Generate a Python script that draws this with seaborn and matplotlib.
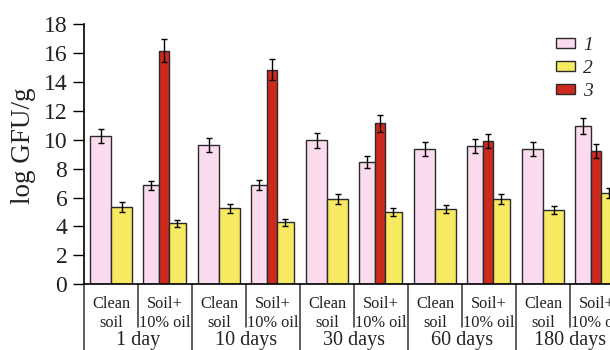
import matplotlib
matplotlib.use("Agg")
import matplotlib.pyplot as plt
import numpy as np
import seaborn as sns
from matplotlib.patches import Patch

# Data
times = ["1 day", "10 days", "30 days", "60 days", "180 days"]
soil_top = ["Clean", "Soil+"]
soil_bottom = ["soil", "10% oil"]
series_names = ["1", "2", "3"]

s1_clean = [10.25, 9.65, 9.95, 9.35, 9.38]
s1_clean_err = [0.5, 0.5, 0.52, 0.5, 0.48]
s1_oil = [6.85, 6.85, 8.45, 9.56, 10.95]
s1_oil_err = [0.32, 0.35, 0.4, 0.48, 0.55]

s2_clean = [5.36, 5.25, 5.88, 5.21, 5.13]
s2_clean_err = [0.35, 0.3, 0.35, 0.25, 0.3]
s2_oil = [4.23, 4.28, 4.99, 5.88, 6.30]
s2_oil_err = [0.25, 0.25, 0.3, 0.35, 0.35]

s3_oil = [16.15, 14.85, 11.12, 9.90, 9.22]
s3_oil_err = [0.8, 0.75, 0.6, 0.5, 0.47]

pink = "#fbdbee"
yellow = "#f8e962"
red = "#cc2a1c"
edge = "#2a2a2a"

sns.set_style("ticks")
plt.rcParams["font.family"] = ["Liberation Serif", "DejaVu Serif"]

fig = plt.figure(figsize=(6.1, 3.5), dpi=100)
# axes runs a little past the right edge, as in the cropped original
ax = fig.add_axes([84 / 610, 65.7 / 350, 540 / 610, 260.3 / 350])

base = np.arange(len(times)) * 2.0
bars = [
    (base + 0.311, s1_clean, s1_clean_err, pink, 0.39),
    (base + 0.701, s2_clean, s2_clean_err, yellow, 0.39),
    (base + 1.246, s1_oil, s1_oil_err, pink, 0.296),
    (base + 1.487, s3_oil, s3_oil_err, red, 0.185),
    (base + 1.731, s2_oil, s2_oil_err, yellow, 0.304),
]
for xs, vals, errs, col, w in bars:
    sns.barplot(x=xs, y=vals, native_scale=True, orient="x", width=w / 2,
                color=col, saturation=1, edgecolor=edge, linewidth=1,
                errorbar=None, ax=ax)
    ax.errorbar(xs, vals, yerr=errs, fmt="none", ecolor="black",
                elinewidth=1, capsize=2, capthick=1, zorder=5)

ax.set_xlim(0, 10)
ax.set_ylim(0, 18)
ax.set_yticks(range(0, 19, 2))
ax.set_xticks([])
ax.set_xlabel("")
ax.tick_params(axis="y", labelsize=17, length=8, width=1, pad=4,
               color="black", labelcolor="#222222")
sns.despine(ax=ax)
for sp in ["left", "bottom"]:
    ax.spines[sp].set_linewidth(1.2)
    ax.spines[sp].set_color("black")

trans = ax.get_xaxis_transform()
px = 1 / 260.3
for k in range(11):
    low = -65.7 * px if k % 2 == 0 else -42.5 * px
    ax.plot([k, k], [0, low], color="#333333", lw=1.1, transform=trans,
            clip_on=False)

for i, t in enumerate(times):
    for j in range(2):
        cx = 2 * i + j + 0.5
        ax.text(cx, -23.5 * px, soil_top[j], transform=trans, ha="center",
                va="baseline", fontsize=11.8, color="#222222")
        ax.text(cx, -42.3 * px, soil_bottom[j], transform=trans,
                ha="center", va="baseline", fontsize=11.8, color="#222222")
    ax.text(2 * i + 1, -60.5 * px, t, transform=trans, ha="center",
            va="baseline", fontsize=14.5, color="#222222")

fig.text(24 / 610, 1 - 146 / 350, "log GFU/g", rotation=90, ha="center",
         va="center", fontsize=19.5, color="#222222")

handles = [Patch(facecolor=c, edgecolor=edge, linewidth=1)
           for c in [pink, yellow, red]]
fig.legend(handles, series_names, loc="upper left",
           bbox_to_anchor=(556 / 610, 1 - 37 / 350), frameon=False,
           prop={"style": "italic", "size": 14}, handlelength=0.98,
           handleheight=0.45, handletextpad=0.4, labelspacing=0.3,
           borderpad=0, borderaxespad=0)

fig.savefig("out.png", dpi=100)
